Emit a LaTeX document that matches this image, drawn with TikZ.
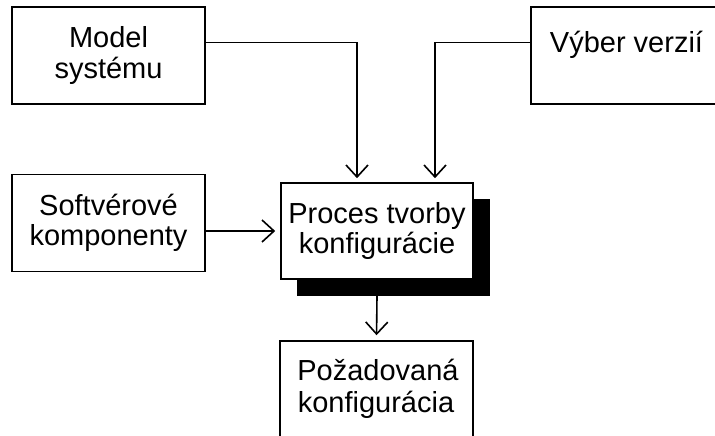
\documentclass[tikz,border=0pt]{standalone}
\usepackage{fontspec}
\setmainfont{Liberation Sans}
\usetikzlibrary{arrows.meta,calc}
\begin{document}
\begin{tikzpicture}[x=1pt,y=-1pt,
  box/.style={draw=black,line width=1.6pt,fill=white,minimum width=193pt,minimum height=97pt,inner sep=0pt,align=center,font=\fontsize{29}{30.5}\selectfont},
  txt/.style={inner sep=0pt,align=center,font=\fontsize{29}{30.5}\selectfont},
  arr/.style={line width=1.6pt,-{Straight Barb[length=12pt,width=22pt,line width=1.6pt]}},
  ln/.style={line width=1.6pt}]
\useasboundingbox (0,0) rectangle (715,436);
\clip (0,0) rectangle (715,436);
\node[box] (model) at (108.5,55.5) {Model\\systému};
\node[box] (soft) at (108.5,223) {Softvérové\\komponenty};
\node[box,minimum width=191pt] (vyber) at (626.5,55.5) {};
\node[txt,anchor=base] (vybertext) at (626.5,53) {Výber verzií};
\node[fill=black,minimum width=193pt,minimum height=97pt,inner sep=0pt] (shadow) at (393.5,247.5) {};
\node[box,minimum width=192pt,minimum height=96pt] (proces) at (377,231) {Proces tvorby\\konfigurácie};
\node[box,minimum height=130pt] (poz) at (376.5,406) {};
\node[txt,anchor=base] (poztext) at (378,380) {Požadovaná};
\node[txt,anchor=base] (poztext2) at (376,412) {konfigurácia};
\draw[arr,shorten >=4pt] ($(model.north east)!0.37!(model.south east)$) -| ($(proces.north)+(-20,0)$);
\draw[arr,shorten >=4pt] ($(vyber.north west)!0.37!(vyber.south west)$) -| ($(proces.north)+(58,0)$);
\draw[arr,shorten >=5pt] (soft.east |- proces.west) -- (proces.west);
\draw[arr,shorten >=5pt] (proces.south |- shadow.south) -- (poz.north);
\end{tikzpicture}
\end{document}
